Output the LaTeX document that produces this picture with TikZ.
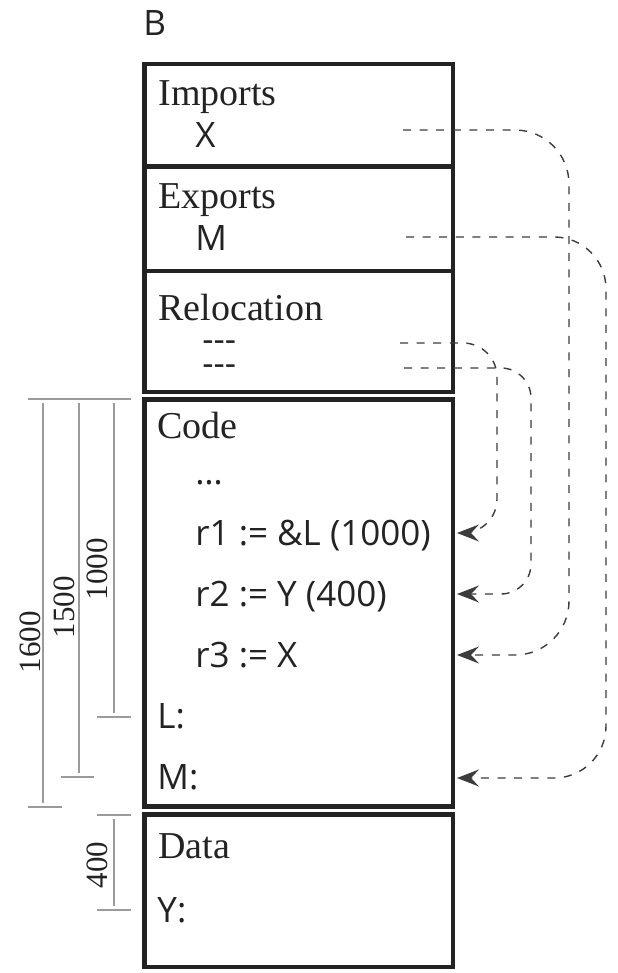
\documentclass[tikz,border=0pt]{standalone}
\usepackage{fontspec}
\setmainfont{Liberation Serif}
\newfontfamily\codefont{Open Sans}
\usetikzlibrary{arrows.meta}
\definecolor{figline}{RGB}{35,35,35}
\definecolor{figdim}{RGB}{155,155,155}
\definecolor{figlink}{RGB}{60,60,60}
\tikzset{
  seg/.style   ={draw=figline, line width=2.2pt},
  dimln/.style ={draw=figdim, line width=0.6pt},
  hd/.style    ={font=\fontsize{19}{19}\selectfont, anchor=base west, inner sep=0pt, text=figline},
  cd/.style    ={font=\codefont\fontsize{17.5}{17.5}\selectfont, anchor=base west, inner sep=0pt, text=figline},
  rl/.style    ={cd, text height=0.35em, text depth=0pt},
  dimlab/.style={font=\fontsize{15.5}{15.5}\selectfont, rotate=90, inner sep=0pt, text=figline},
  link/.style  ={draw=figlink, line width=0.7pt, dash pattern=on 4pt off 4.3pt,
                 -{Stealth[length=11pt,width=8.5pt,inset=4pt]}},
}

\begin{document}
\begin{tikzpicture}[x=0.5pt,y=-0.5pt]
  \useasboundingbox (0,0) rectangle (617,973);
  \node[cd] (title) at (143,36) {B};
  % header block
  \draw[seg] (144.5,64) rectangle (453,392);
  \draw[seg] (144.5,166.5) -- (453,166.5);
  \draw[seg] (144.5,271) -- (453,271);
  \node[hd] (imp) at (158,106) {Imports};
  \node[cd] (impx) at (195,148) {X};
  \node[hd] (exp) at (158,208) {Exports};
  \node[cd] (expm) at (195,250) {M};
  \node[hd] (rel) at (158,320) {Relocation};
  \node[rl] (rela) at (202,351) {-\kern0pt-\kern0pt-};
  \node[rl] (relb) at (202,375) {-\kern0pt-\kern0pt-};
  % code block
  \draw[seg] (144.5,399.5) rectangle (453,806.5);
  \node[hd] (code) at (157,438) {Code};
  \node[cd] (dots) at (195,484) {…};
  \node[cd] (ra) at (195,545.5) {r1 := \&L (1000)};
  \node[cd] (rb) at (195,606.5) {r2 := Y (400)};
  \node[cd] (rc) at (195,667.5) {r3 := X};
  \node[cd] (lab) at (157,728.5) {L:};
  \node[cd] (mab) at (157,789.5) {M:};
  % data block
  \draw[seg] (144.5,814.5) rectangle (453,967);
  \node[hd] (data) at (158,858) {Data};
  \node[cd] (yab) at (157,922) {Y:};

  % sizes
  \draw[dimln] (28,399) -- (131,399);
  \draw[dimln] (43,403) -- (43,803);
  \draw[dimln] (28,807) -- (62,807);
  \draw[dimln] (79,403) -- (79,773);
  \draw[dimln] (61,777) -- (94,777);
  \draw[dimln] (114,403) -- (114,713);
  \draw[dimln] (97,717) -- (131,717);
  \draw[dimln] (97,815) -- (131,815);
  \draw[dimln] (114,819) -- (114,906);
  \draw[dimln] (97,910) -- (131,910);
  \node[dimlab] (sza) at (30,642) {1600};
  \node[dimlab] (szb) at (64,607) {1500};
  \node[dimlab] (szc) at (97,569) {1000};
  \node[dimlab] (szd) at (97,865) {400};

  % references
  \coordinate (srcx) at (403,130);
  \coordinate (srcm) at (406,237);
  \coordinate (srca) at (400,343);
  \coordinate (srcb) at (404,368);
  \coordinate (tipa) at (457,533);
  \coordinate (tipb) at (457,594);
  \coordinate (tipc) at (457,655);
  \coordinate (tipm) at (457,778);
  \coordinate (bnda) at (497,533);
  \coordinate (bndb) at (531,594);
  \coordinate (bndc) at (569,655);
  \coordinate (bndm) at (606,778);
  \draw[link] (srca) [rounded corners=17pt] -| (bnda) [rounded corners=8pt] -- (tipa);
  \draw[link] (srcb) [rounded corners=15pt] -| (bndb) [rounded corners=10pt] -- (tipb);
  \draw[link] (srcx) [rounded corners=27pt] -| (bndc) [rounded corners=19pt] -- (tipc);
  \draw[link] (srcm) [rounded corners=26pt] -| (bndm) [rounded corners=20pt] -- (tipm);
\end{tikzpicture}
\end{document}
